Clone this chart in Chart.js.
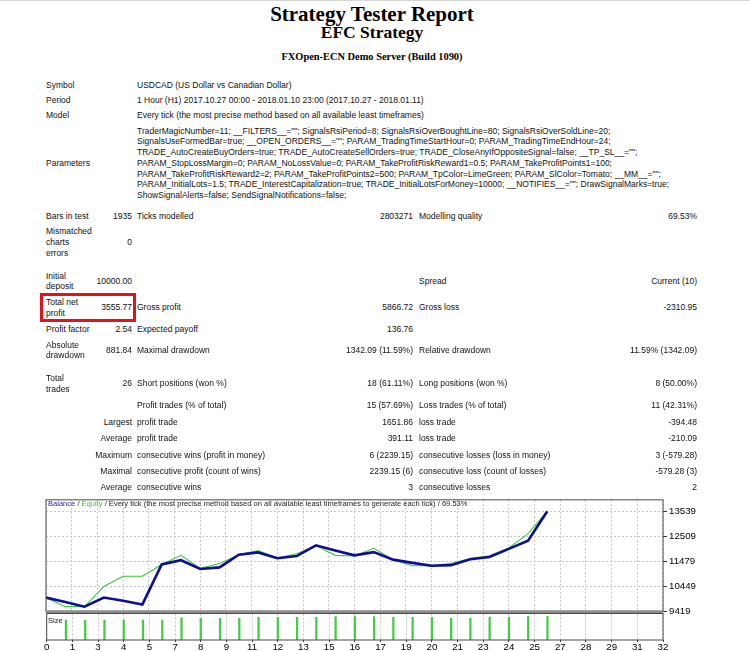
<!DOCTYPE html>
<html>
<head>
<meta charset="utf-8">
<script src="https://cdn.jsdelivr.net/npm/chart.js@4.4.0/dist/chart.umd.min.js"></script>
<style>
html, body { margin: 0; padding: 0; background: #fff; }
body { width: 750px; height: 651px; position: relative; overflow: hidden; }
#topline { position: absolute; left: 0; top: 0; width: 750px; height: 1px; background: #d6d6d6; }
.h { position: absolute; left: 0; width: 744px; text-align: center; font-family: "Liberation Serif", "Times New Roman", serif; font-weight: bold; color: #000; white-space: nowrap; }
.t { position: absolute; font-family: "Liberation Sans", Arial, sans-serif; font-size: 8.5px; line-height: 11px; height: 11px; white-space: nowrap; color: #111; }
.r { text-align: right; }
#box { position: absolute; left: 40px; top: 293px; width: 96px; height: 29px; border: 3px solid #e3131b; box-sizing: border-box; }
canvas { position: absolute; }
.lg { position: absolute; font-family: "Liberation Sans", Arial, sans-serif; font-size: 7.55px; line-height: 10px; white-space: nowrap; color: #222; }
</style>
</head>
<body>
<div id="topline"></div>
<div class="h" style="top:3.5px;font-size:21px;line-height:21px">Strategy Tester Report</div>
<div class="h" style="top:23.5px;font-size:17.5px;line-height:17.5px">EFC Strategy</div>
<div class="h" style="top:52px;font-size:10.4px;line-height:10.4px">FXOpen-ECN Demo Server (Build 1090)</div>
<div id="box"></div>
<canvas id="bal" width="662" height="128" style="left:44px;top:492px"></canvas>
<canvas id="lots" width="662" height="40" style="left:44px;top:611px"></canvas>
<div class="lg" style="left:48px;top:499px"><span style="color:#1c1ca8">Balance</span> / <span style="color:#3cbf3c">Equity</span> / Every tick (the most precise method based on all available least timeframes to generate each tick) / 69.53%</div>
<div class="lg" style="left:48px;top:616px">Size</div>
<script>
// balance / equity after each trade (trade 0 = initial deposit)
const balance = [10000, 9815, 9627, 10005, 9868, 9719, 11364, 11541, 11180, 11244, 11765, 11862, 11621, 11713,
                 12154, 11942, 11741, 11874, 11565, 11432, 11312, 11338, 11580, 11673, 12008, 12345, 13555.77];
const equity  = [10000, 9627, 9627, 10460, 10878, 10878, 11364, 11741, 11204, 11404, 11765, 11942, 11633, 11805,
                 12142, 11741, 11713, 12034, 11565, 11312, 11312, 11404, 11605, 11725, 12048, 12638, 13555.77];
// lot size of trades 1..26
const lotSizes = [1.50, 1.50, 1.50, 1.50, 1.50, 1.50, 1.68, 1.63, 1.63, 1.63, 1.71, 1.71, 1.71, 1.71,
                  1.77, 1.77, 1.77, 1.71, 1.71, 1.71, 1.63, 1.63, 1.73, 1.73, 1.79, 1.79];
const yTicks = [9419, 10449, 11479, 12509, 13539];
const xTickLabels = ['0', '1', '3', '4', '5', '7', '8', '9', '11', '12', '13', '15', '16', '17', '19', '20',
                     '21', '23', '24', '25', '27', '28', '29', '31', '32'];
const xMax = 32;

// report table
function put(x, y, s, right) {
    const d = document.createElement('div');
    d.className = 't' + (right ? ' r' : '');
    d.textContent = s;
    d.style.top = (y - 5.5) + 'px';
    if (right) d.style.right = (750 - x) + 'px'; else d.style.left = x + 'px';
    document.body.appendChild(d);
}
const C1 = 46, C2 = 132, C3 = 137, C4 = 413, C5 = 419, C6 = 697;

put(C1, 85, 'Symbol'); put(C3, 85, 'USDCAD (US Dollar vs Canadian Dollar)');
put(C1, 100, 'Period'); put(C3, 100, '1 Hour (H1) 2017.10.27 00:00 - 2018.01.10 23:00 (2017.10.27 - 2018.01.11)');
put(C1, 115, 'Model'); put(C3, 115, 'Every tick (the most precise method based on all available least timeframes)');
[
    'TraderMagicNumber=11; __FILTERS__=""; SignalsRsiPeriod=8; SignalsRsiOverBoughtLine=80; SignalsRsiOverSoldLine=20;',
    'SignalsUseFormedBar=true; __OPEN_ORDERS__=""; PARAM_TradingTimeStartHour=0; PARAM_TradingTimeEndHour=24;',
    'TRADE_AutoCreateBuyOrders=true; TRADE_AutoCreateSellOrders=true; TRADE_CloseAnyIfOppositeSignal=false; __TP_SL__="";',
    'PARAM_StopLossMargin=0; PARAM_NoLossValue=0; PARAM_TakeProfitRiskReward1=0.5; PARAM_TakeProfitPoints1=100;',
    'PARAM_TakeProfitRiskReward2=2; PARAM_TakeProfitPoints2=500; PARAM_TpColor=LimeGreen; PARAM_SlColor=Tomato; __MM__="";',
    'PARAM_InitialLots=1.5; TRADE_InterestCapitalization=true; TRADE_InitialLotsForMoney=10000; __NOTIFIES__=""; DrawSignalMarks=true;',
    'ShowSignalAlerts=false; SendSignalNotifications=false;'
].forEach((s, i) => put(C3, 131 + i * 10.75, s));
put(C1, 163.3, 'Parameters');

put(C1, 216, 'Bars in test'); put(C2, 216, '1935', 1); put(C3, 216, 'Ticks modelled'); put(C4, 216, '2803271', 1);
put(C5, 216, 'Modelling quality'); put(C6, 216, '69.53%', 1);
put(C1, 231.7, 'Mismatched'); put(C1, 242.7, 'charts'); put(C1, 253.3, 'errors'); put(C2, 242.7, '0', 1);
put(C1, 276, 'Initial'); put(C1, 286, 'deposit'); put(C2, 281, '10000.00', 1);
put(C5, 281, 'Spread'); put(C6, 281, 'Current (10)', 1);
put(C1, 302.7, 'Total net'); put(C1, 313.3, 'profit'); put(C2, 307.5, '3555.77', 1);
put(C3, 307.5, 'Gross profit'); put(C4, 307.5, '5866.72', 1); put(C5, 307.5, 'Gross loss'); put(C6, 307.5, '-2310.95', 1);
put(C1, 329.3, 'Profit factor'); put(C2, 329.3, '2.54', 1); put(C3, 329.3, 'Expected payoff'); put(C4, 329.3, '136.76', 1);
put(C1, 345, 'Absolute'); put(C1, 355.7, 'drawdown'); put(C2, 350.5, '881.84', 1);
put(C3, 350.5, 'Maximal drawdown'); put(C4, 350.5, '1342.09 (11.59%)', 1);
put(C5, 350.5, 'Relative drawdown'); put(C6, 350.5, '11.59% (1342.09)', 1);
put(C1, 378, 'Total'); put(C1, 389, 'trades'); put(C2, 383.3, '26', 1);
put(C3, 383.3, 'Short positions (won %)'); put(C4, 383.3, '18 (61.11%)', 1);
put(C5, 383.3, 'Long positions (won %)'); put(C6, 383.3, '8 (50.00%)', 1);
put(C3, 405, 'Profit trades (% of total)'); put(C4, 405, '15 (57.69%)', 1);
put(C5, 405, 'Loss trades (% of total)'); put(C6, 405, '11 (42.31%)', 1);
put(C2, 422.3, 'Largest', 1); put(C3, 422.3, 'profit trade'); put(C4, 422.3, '1651.86', 1);
put(C5, 422.3, 'loss trade'); put(C6, 422.3, '-394.48', 1);
put(C2, 438.3, 'Average', 1); put(C3, 438.3, 'profit trade'); put(C4, 438.3, '391.11', 1);
put(C5, 438.3, 'loss trade'); put(C6, 438.3, '-210.09', 1);
put(C2, 455, 'Maximum', 1); put(C3, 455, 'consecutive wins (profit in money)'); put(C4, 455, '6 (2239.15)', 1);
put(C5, 455, 'consecutive losses (loss in money)'); put(C6, 455, '3 (-579.28)', 1);
put(C2, 471, 'Maximal', 1); put(C3, 471, 'consecutive profit (count of wins)'); put(C4, 471, '2239.15 (6)', 1);
put(C5, 471, 'consecutive loss (count of losses)'); put(C6, 471, '-579.28 (3)', 1);
put(C2, 487.3, 'Average', 1); put(C3, 487.3, 'consecutive wins'); put(C4, 487.3, '3', 1);
put(C5, 487.3, 'consecutive losses'); put(C6, 487.3, '2', 1);

// charts
Chart.defaults.font.family = '"Liberation Sans", Arial, sans-serif';
Chart.defaults.color = '#000';

const framePlugin = {
    id: 'frame',
    afterDraw(chart, args, opts) {
        const { ctx, chartArea: a } = chart;
        ctx.save();
        ctx.strokeStyle = '#4a4a4a';
        ctx.lineWidth = 1;
        ctx.strokeRect(a.left, a.top, a.right - a.left, a.bottom - a.top);
        if (opts.sep) {
            ctx.strokeStyle = '#8c8c8c';
            ctx.lineWidth = 3;
            ctx.beginPath();
            ctx.moveTo(a.left, a.bottom);
            ctx.lineTo(a.right, a.bottom);
            ctx.stroke();
        }
        ctx.restore();
    }
};

const setXTicks = s => { s.ticks = xTickLabels.map((_, i) => ({ value: i * xMax / (xTickLabels.length - 1) })); };
const gridCol = '#c6c6c6';

new Chart(document.getElementById('bal'), {
    type: 'line',
    data: {
        datasets: [{
            label: 'Balance',
            data: balance.map((v, i) => ({ x: i, y: v })),
            borderColor: '#0d0d96',
            borderWidth: 2.6,
            pointRadius: 0,
            tension: 0
        }, {
            label: 'Equity',
            data: equity.map((v, i) => ({ x: i, y: v })),
            borderColor: '#3cc83c',
            borderWidth: 1.1,
            pointRadius: 0,
            tension: 0
        }]
    },
    options: {
        responsive: false,
        animation: false,
        layout: { padding: { left: 2, top: 5, right: 0, bottom: 8.3 } },
        plugins: { legend: { display: false }, tooltip: { enabled: false }, frame: { sep: true } },
        scales: {
            x: {
                type: 'linear', min: 0, max: xMax,
                afterBuildTicks: setXTicks,
                ticks: { display: false },
                grid: { color: gridCol, drawTicks: false },
                border: { display: false, dash: [2, 2] },
                afterFit: s => { s.height = 0; }
            },
            y: {
                position: 'right', min: 9419, max: 14030,
                afterBuildTicks: s => { s.ticks = yTicks.map(v => ({ value: v })); },
                ticks: { font: { size: 9.7 }, padding: 2, callback: v => String(v) },
                grid: { color: gridCol, tickColor: '#333', tickLength: 4, tickBorderDash: [] },
                border: { display: false, dash: [2, 2] },
                afterFit: s => { s.width = 43; }
            }
        }
    },
    plugins: [framePlugin]
});

new Chart(document.getElementById('lots'), {
    type: 'bar',
    data: {
        datasets: [{
            label: 'Size',
            data: lotSizes.map((v, i) => ({ x: i + 1, y: v })),
            backgroundColor: '#44cc44',
            borderWidth: 0,
            barThickness: 1.6
        }]
    },
    options: {
        responsive: false,
        animation: false,
        layout: { padding: { left: 2, top: 2.5, right: 43, bottom: 0 } },
        plugins: { legend: { display: false }, tooltip: { enabled: false }, frame: {} },
        scales: {
            x: {
                type: 'linear', min: 0, max: xMax, offset: false,
                afterBuildTicks: setXTicks,
                ticks: { font: { size: 9.7 }, padding: 0, maxRotation: 0, autoSkip: false,
                         callback: (v, i) => xTickLabels[i] },
                grid: { color: gridCol, tickColor: '#333', tickLength: 2, offset: false, tickBorderDash: [] },
                border: { display: false, dash: [2, 2] },
                afterFit: s => { s.height = 11; }
            },
            y: { display: false, min: 0, max: 2 }
        }
    },
    plugins: [framePlugin]
});
</script>
</body>
</html>
